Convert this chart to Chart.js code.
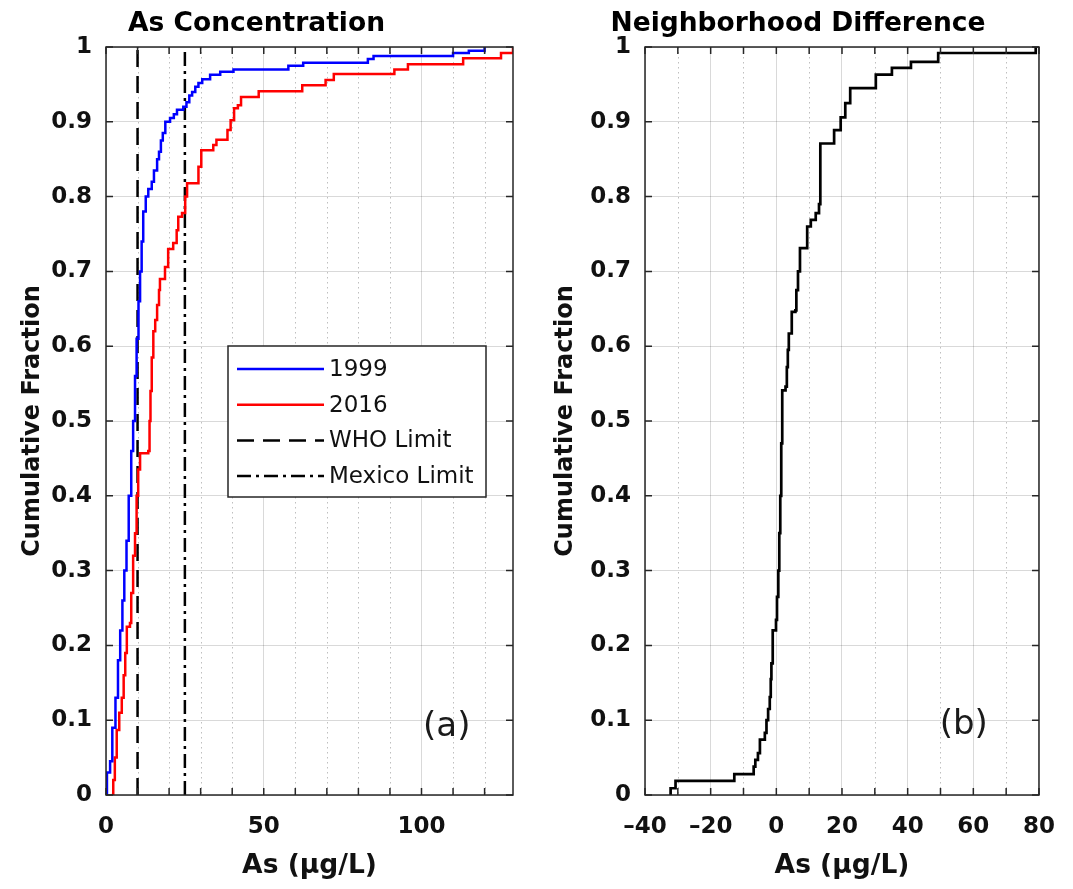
<!DOCTYPE html>
<html>
<head>
<meta charset="utf-8">
<script src="https://cdn.jsdelivr.net/npm/chart.js@4.4.0/dist/chart.umd.min.js"></script>
<style>
  html, body { margin: 0; padding: 0; background: #fff; }
  #wrap { position: relative; width: 1073px; height: 889px; }
  #chartA { position: absolute; left: 0; top: 0; }
  #chartB { position: absolute; left: 540px; top: 0; }
</style>
</head>
<body>
<div id="wrap">
  <canvas id="chartA" width="540" height="889"></canvas>
  <canvas id="chartB" width="533" height="889"></canvas>
</div>
<script>
// tick values
const yTicks = [0, 0.1, 0.2, 0.3, 0.4, 0.5, 0.6, 0.7, 0.8, 0.9, 1];
const xTicksA = [0, 50, 100];
const xMinorA = [10, 20, 30, 40, 60, 70, 80, 90, 110, 120];
const xTicksB = [-40, -20, 0, 20, 40, 60, 80];
const xMinorB = [-30, -10, 10, 30, 50, 70];

// limits (ug/L)
const whoLimit = 10;
const mexicoLimit = 25;

const as1999X = [0, 0.3, 1.3, 2.0, 3.0, 3.8, 4.5, 5.2, 5.8, 6.5, 7.2, 8.0, 8.6, 9.2, 9.7, 10.3, 10.8, 11.3, 11.8, 12.6,
  13.4, 14.5, 15.2, 16.2, 16.8, 17.4, 18.0, 18.8, 20.3, 21.5, 22.5, 24.5, 25.5, 26.4, 27.3, 28.3, 29.3, 30.5, 33.0, 36.2,
  40.4, 57.8, 62.5, 83.0, 84.8, 110.0, 115.0, 120.0];
const as1999F = [0, 0.03, 0.045, 0.09, 0.13, 0.18, 0.22, 0.26, 0.30, 0.34, 0.40, 0.46, 0.50, 0.56, 0.61, 0.66, 0.70, 0.74, 0.78, 0.80,
  0.81, 0.82, 0.835, 0.85, 0.86, 0.875, 0.885, 0.90, 0.905, 0.91, 0.916, 0.92, 0.926, 0.935, 0.94, 0.947, 0.952, 0.957, 0.963, 0.967,
  0.970, 0.975, 0.979, 0.984, 0.988, 0.992, 0.995, 1.0];

const as2016X = [1.8, 2.3, 2.8, 3.4, 4.2, 5.0, 5.6, 6.1, 6.6, 7.6, 8.0, 8.6, 9.2, 9.7, 10.2, 10.8, 13.4, 13.8, 14.1, 14.5,
  15.0, 15.6, 16.2, 16.8, 17.1, 18.7, 19.7, 21.3, 22.4, 22.9, 24.1, 25.1, 25.7, 29.3, 30.2, 34.0, 35.0, 38.5, 39.5, 40.6,
  41.8, 42.8, 48.4, 62.2, 69.6, 72.2, 91.4, 95.7, 113.2, 125.2, 129.0];
const as2016F = [0, 0.02, 0.05, 0.087, 0.11, 0.13, 0.16, 0.19, 0.225, 0.23, 0.27, 0.32, 0.35, 0.40, 0.435, 0.457, 0.46, 0.50, 0.54, 0.585,
  0.62, 0.635, 0.655, 0.675, 0.69, 0.706, 0.73, 0.738, 0.755, 0.773, 0.778, 0.80, 0.818, 0.84, 0.862, 0.869, 0.876, 0.889, 0.902, 0.918,
  0.922, 0.933, 0.941, 0.949, 0.956, 0.964, 0.970, 0.977, 0.985, 0.992, 1.0];

const diffX = [-32.2, -32.2, -30.7, -12.8, -6.9, -6.4, -5.6, -5.0, -3.5, -3.0, -2.5, -2.0, -1.7, -1.5, -1.1, -0.1, 0.2, 0.6, 0.9, 1.2,
  1.5, 1.8, 2.8, 3.2, 3.5, 3.8, 4.7, 5.8, 6.1, 6.6, 7.2, 9.4, 10.5, 12.0, 13.0, 13.4, 17.6, 19.6, 21.0, 22.5,
  30.3, 35.2, 41.0, 49.3, 79.0];
const diffF = [0, 0.009, 0.019, 0.028, 0.038, 0.047, 0.056, 0.074, 0.083, 0.10, 0.115, 0.131, 0.155, 0.176, 0.22, 0.234, 0.265, 0.30, 0.35, 0.40,
  0.47, 0.541, 0.546, 0.572, 0.595, 0.617, 0.646, 0.648, 0.675, 0.70, 0.731, 0.76, 0.769, 0.778, 0.79, 0.871, 0.889, 0.906, 0.925, 0.945,
  0.963, 0.972, 0.98, 0.992, 1.0];

const FONT = '"DejaVu Sans", "Liberation Sans", sans-serif';
const GRID = 'rgba(0,0,0,0.15)';
const AXIS = '#262626';

const toPoints = (xs, fs) => xs.map((x, i) => ({ x: x, y: fs[i] }));
const vline = (v) => [{ x: v, y: 0 }, { x: v, y: 1 }];

// matlab-ish axes: dotted minor grid, box, inward ticks, legend box, panel letter
const matlabAxes = {
    id: "matlabAxes",
    beforeDatasetsDraw(chart, args, opts) {
        const { ctx, chartArea: a, scales: { x } } = chart;
        ctx.save();
        ctx.strokeStyle = "rgba(0,0,0,0.25)";
        ctx.lineWidth = 1;
        ctx.setLineDash([1.5, 3.5]);
        opts.minor.forEach((v) => {
            const px = Math.round(x.getPixelForValue(v)) + 0.5;
            ctx.beginPath();
            ctx.moveTo(px, a.top);
            ctx.lineTo(px, a.bottom);
            ctx.stroke();
        });
        ctx.restore();
    },
    afterDatasetsDraw(chart, args, opts) {
        const { ctx, chartArea: a, scales: { x, y } } = chart;
        ctx.save();
        ctx.strokeStyle = AXIS;
        ctx.lineWidth = 1.5;
        ctx.setLineDash([]);
        ctx.strokeRect(a.left, a.top, a.right - a.left, a.bottom - a.top);

        // inward ticks
        const all = opts.major.concat(opts.minor);
        all.forEach((v) => {
            const px = x.getPixelForValue(v);
            ctx.beginPath();
            ctx.moveTo(px, a.bottom);
            ctx.lineTo(px, a.bottom - 7);
            ctx.moveTo(px, a.top);
            ctx.lineTo(px, a.top + 7);
            ctx.stroke();
        });
        yTicks.forEach((v) => {
            const py = y.getPixelForValue(v);
            ctx.beginPath();
            ctx.moveTo(a.left, py);
            ctx.lineTo(a.left + 7, py);
            ctx.moveTo(a.right, py);
            ctx.lineTo(a.right - 7, py);
            ctx.stroke();
        });

        // panel letter
        if (opts.letter) {
            ctx.fillStyle = "#1a1a1a";
            ctx.font = `34px ${FONT}`;
            ctx.textAlign = "center";
            ctx.textBaseline = "middle";
            ctx.fillText(opts.letter.text, x.getPixelForValue(opts.letter.x), y.getPixelForValue(opts.letter.y));
        }

        // legend
        const L = opts.legend;
        if (L) {
            const x0 = a.left + L.left, y0 = a.top + L.top;
            ctx.fillStyle = "#fff";
            ctx.fillRect(x0, y0, L.width, L.height);
            ctx.strokeStyle = AXIS;
            ctx.lineWidth = 1.5;
            ctx.strokeRect(x0, y0, L.width, L.height);
            ctx.font = `23px ${FONT}`;
            ctx.textAlign = "left";
            ctx.textBaseline = "middle";
            chart.data.datasets.forEach((ds, i) => {
                const yy = y0 + L.firstRow + i * L.rowGap;
                ctx.strokeStyle = ds.borderColor;
                ctx.lineWidth = ds.borderWidth;
                ctx.setLineDash(ds.borderDash || []);
                ctx.beginPath();
                ctx.moveTo(x0 + 9, yy);
                ctx.lineTo(x0 + 96, yy);
                ctx.stroke();
                ctx.fillStyle = "#111";
                ctx.fillText(ds.label, x0 + 101, yy + 1);
            });
        }
        ctx.restore();
    },
};

function axesOptions(cfg) {
    return {
        responsive: false,
        animation: false,
        layout: { padding: { top: 0, right: cfg.padRight, bottom: 0, left: 0 } },
        plugins: {
            legend: { display: false },
            tooltip: { enabled: false },
            title: {
                display: true,
                text: cfg.title,
                color: "#000",
                font: { family: FONT, size: 26.5, weight: "bold" },
                padding: { top: 8, bottom: 7.2 },
            },
            matlabAxes: cfg.extra,
        },
        scales: {
            x: {
                type: "linear",
                min: cfg.xMin,
                max: cfg.xMax,
                afterBuildTicks: (s) => { s.ticks = cfg.xTicks.map((v) => ({ value: v })); },
                afterFit: (s) => { s.height = 94; },
                grid: { color: GRID, lineWidth: 1, drawTicks: false },
                border: { display: false },
                ticks: {
                    color: "#111",
                    padding: 18,
                    maxRotation: 0,
                    font: { family: FONT, size: 23, weight: "bold" },
                    callback: (v) => (v < 0 ? "\u2013" + Math.abs(v) : String(v)),
                },
                title: {
                    display: true,
                    text: "As (\u03bcg/L)",
                    color: "#111",
                    font: { family: FONT, size: 26.5, weight: "bold" },
                    padding: { top: 0, bottom: 7 },
                },
            },
            y: {
                min: 0,
                max: 1,
                afterBuildTicks: (s) => { s.ticks = yTicks.map((v) => ({ value: v })); },
                afterFit: (s) => { s.width = cfg.yWidth; },
                grid: { color: GRID, lineWidth: 1, drawTicks: false },
                border: { display: false },
                ticks: {
                    color: "#111",
                    padding: 14,
                    font: { family: FONT, size: 23, weight: "bold" },
                    callback: (v) => String(Math.round(v * 10) / 10),
                },
                title: {
                    display: true,
                    text: "Cumulative Fraction",
                    color: "#111",
                    font: { family: FONT, size: 24, weight: "bold" },
                    padding: { top: cfg.yTitlePad, bottom: 0 },
                },
            },
        },
    };
}

const lineStyle = { pointRadius: 0, fill: false, tension: 0 };

new Chart(document.getElementById("chartA"), {
    type: "line",
    data: {
        datasets: [
            { ...lineStyle, label: "1999", data: toPoints(as1999X, as1999F), stepped: true, borderColor: "#0000ff", borderWidth: 2.5 },
            { ...lineStyle, label: "2016", data: toPoints(as2016X, as2016F), stepped: true, borderColor: "#ff0000", borderWidth: 2.5 },
            { ...lineStyle, label: "WHO Limit", data: vline(whoLimit), borderColor: "#000", borderWidth: 2.5, borderDash: [17, 9] },
            { ...lineStyle, label: "Mexico Limit", data: vline(mexicoLimit), borderColor: "#000", borderWidth: 2.5, borderDash: [14, 5, 3, 5] },
        ],
    },
    options: axesOptions({
        title: "As Concentration",
        xMin: 0, xMax: 129, xTicks: xTicksA,
        padRight: 27, yWidth: 106, yTitlePad: 18.6,
        extra: {
            major: xTicksA, minor: xMinorA,
            letter: { text: "(a)", x: 108, y: 0.091 },
            legend: { left: 122, top: 299, width: 258, height: 151, firstRow: 23, rowGap: 35.7 },
        },
    }),
    plugins: [matlabAxes],
});

new Chart(document.getElementById("chartB"), {
    type: "line",
    data: {
        datasets: [
            { ...lineStyle, label: "Difference", data: toPoints(diffX, diffF), stepped: true, borderColor: "#000", borderWidth: 2.7 },
        ],
    },
    options: axesOptions({
        title: "Neighborhood Difference",
        xMin: -40, xMax: 80, xTicks: xTicksB,
        padRight: 17, yWidth: 105, yTitlePad: 11.6,
        extra: {
            major: xTicksB, minor: xMinorB,
            letter: { text: "(b)", x: 57.1, y: 0.094 },
        },
    }),
    plugins: [matlabAxes],
});
</script>
</body>
</html>
